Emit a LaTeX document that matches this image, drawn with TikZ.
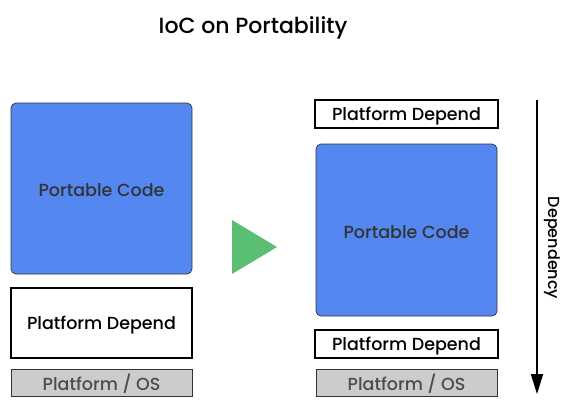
\documentclass[tikz,border=0pt]{standalone}
\usepackage{fontspec}
\setmainfont{Poppins Medium}
\usetikzlibrary{arrows.meta}
\definecolor{codeblue}{HTML}{5587F0}
\definecolor{osgray}{HTML}{CCCCCC}
\definecolor{tgreen}{HTML}{5ABE73}
\begin{document}
\begin{tikzpicture}[x=1pt,y=-1pt,
  codebox/.style={draw=black!80,line width=0.7pt,fill=codeblue,rounded corners=5pt},
  depbox/.style={draw=black,line width=1.6pt,fill=white},
  osbox/.style={draw=black!80,line width=0.7pt,fill=osgray},
  lbl/.style={font=\fontsize{17.5}{20}\selectfont}]
\useasboundingbox (0,0) rectangle (577,407);
\node[font=\fontsize{22}{26}\selectfont] (title) at (253,28) {IoC on Portability};
% left
\draw[codebox] (11,103) rectangle (192,274);
\node[lbl,text=black!80] (lpc) at (101.5,190) {Portable Code};
\draw[depbox] (11,288) rectangle (192,358);
\node[lbl] (lpd) at (101.5,325) {Platform Depend};
\draw[osbox] (11,369) rectangle (192,396);
\node[lbl,text=black!70] (los) at (101.5,384) {Platform / OS};
% triangle
\fill[tgreen] (232,220) -- (277,247) -- (232,274) -- cycle;
% right
\draw[depbox] (315,100) rectangle (498,128);
\node[lbl] (rpd1) at (406.5,116) {Platform Depend};
\draw[codebox] (316,144) rectangle (497,316);
\node[lbl,text=black!80] (rpc) at (406.5,232) {Portable Code};
\draw[depbox] (315,330) rectangle (498,358);
\node[lbl] (rpd2) at (406.5,346) {Platform Depend};
\draw[osbox] (316,369) rectangle (497,396);
\node[lbl,text=black!70] (ros) at (406.5,384) {Platform / OS};
% dependency arrow
\coordinate (atop) at (537,100);
\coordinate (abot) at (537,394);
\draw[line width=1.8pt,-{Triangle[length=20pt,width=12pt]}] (atop) -- (abot);
\node[rotate=-90,font=\fontsize{16}{19}\selectfont] (dep) at (552,248) {Dependency};
\end{tikzpicture}
\end{document}
